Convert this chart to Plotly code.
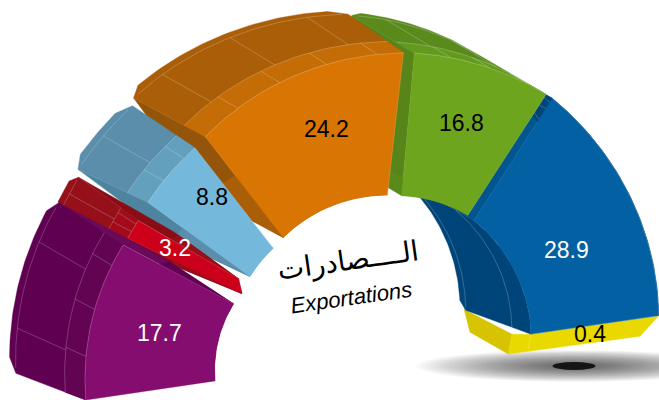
import math
import plotly.graph_objects as go

# ---- data ----
CATEGORIES = ["a", "b", "c", "d", "e", "f", "g"]
VALUES = [17.7, 3.2, 8.8, 24.2, 16.8, 28.9, 0.4]
VALUE_LABELS = ["17.7", "3.2", "8.8", "24.2", "16.8", "28.9", "0.4"]
TITLE_AR = "الــــصادرات"
TITLE_FR = "Exportations"

# ---- projection / style (per slice, not data) ----
START = -8.4
SWEEP = 190.0
NUDGE = [(0, 2.8), (0.6, -1.2), (4.7, 4.0), (4.3, 2.4), (1.1, -3.0), (-3.2, -9.1), (-9.1, -9.1)]
CENTER = [(343, 362), (377, 359), (355, 353), (370, 350), (389, 337), (387.5, 355), (387.5, 355)]
R_OUT = [(260, 249), (277, 276), (256, 260), (269.5, 299), (285, 289), (305, 274), (274, 274)]
R_IN = [(129.5, 124), (150, 160), (130, 133), (142, 156), (142, 145), (160, 145), (145, 145)]
BACK = [((-76, -29), (-70, -46)), ((-73, -30), (-65, -47)), ((-76, -36), (-68, -46)),
        ((-78, -42), (-60, -42)), ((-68, -41), (-68, -40)), ((-68, -38), (-71, -26)),
        ((-67, -25), (-67, -25))]
FRONT_COL = ["#850D70", "#CC001A", "#74B9DC", "#D87503", "#6EA51E", "#0260A3", "#EAD900"]
WALL_COL = ["#5F0050", "#96101A", "#5A8EAA", "#AB5E08", "#5A8A1C", "#00457A", "#D6C400"]
BEVEL_COL = ["#620452", "#A20C1A", "#62A0BE", "#C46C06", "#639A1E", "#00457A", "#EAD900"]
SIDE_COL = ["#6B0A5A", "#8A0C14", "#4F84A0", "#94550A", "#578519", "#02558F", "#D6C400"]
LABEL_COL = ["white", "white", "black", "black", "black", "white", "black"]
LABEL_FRAC = [0.46, 0.62, 0.63, 0.545, 0.575, 0.41, 0.0]
LABEL_DA = [-0.8, 0.85, 3.5, 4.5, -0.3, 2.3, 0.0]
LINE = "rgba(255,255,255,0.35)"
T_BEVEL, T_LIP, CHAMFER = 0.27, 0.92, 2.8

deg = SWEEP / sum(VALUES)
fig = go.Figure()


def poly(pts, color):
    xs, ys = zip(*pts)
    fig.add_trace(go.Scatter(x=list(xs) + [xs[0]], y=list(ys) + [ys[0]], mode="lines", fill="toself",
                             fillcolor=color, line=dict(color=color, width=0.4), hoverinfo="skip",
                             showlegend=False))


def line(pts, color=LINE, width=0.6):
    xs, ys = zip(*pts)
    fig.add_trace(go.Scatter(x=list(xs), y=list(ys), mode="lines", line=dict(color=color, width=width),
                             hoverinfo="skip", showlegend=False))


cum = 0.0
angles = []
for v, n in zip(VALUES, NUDGE):
    angles.append((START + cum * deg + n[0], START + (cum + v) * deg + n[1]))
    cum += v


def maker(i):
    a0, a1 = angles[i]
    cx, cy = CENTER[i]
    (s0, s1) = BACK[i]

    def P(th, kind, t=0.0):
        f = (th - a0) / (a1 - a0) if a1 != a0 else 0
        rr = R_OUT[i] if kind == "out" else R_IN[i]
        r = rr[0] + (rr[1] - rr[0]) * f
        sx = s0[0] + (s1[0] - s0[0]) * f
        sy = s0[1] + (s1[1] - s0[1]) * f
        rad = math.radians(th)
        return (cx - r * math.cos(rad) + t * sx, cy - r * math.sin(rad) + t * sy)

    return P


def arc(i, P, kind, t=0.0, inset=0.0):
    a0, a1 = angles[i]
    a0 += inset
    a1 -= inset
    return [P(a0 + (a1 - a0) * k / 40, kind, t) for k in range(41)]


def side_visible(P, th, kind_sign, shift):
    a = P(th, "out")
    b = P(th, "in")
    ex, ey = a[0] - b[0], a[1] - b[1]
    nx, ny = -ey * kind_sign, ex * kind_sign
    return nx * shift[0] + ny * shift[1] > 0


# ---- yellow sliver first (it sits beneath the blue slice) ----
Y = 6
P = maker(Y)
a0y, a1y = angles[Y]
A, B = P(a0y, "out"), P(a0y, "in")
A2, B2 = P(a1y, "out"), P(a1y, "in")
LOW = (B2[0] - 23, B2[1] + 18)
MID = (B[0] - 19, B[1])
poly([MID, (B[0] - 67, B[1] - 25), (B[0] - 61, B[1] - 2), LOW], WALL_COL[Y])
poly([A, B, MID, LOW, (A2[0] - 19, A2[1] + 17)], FRONT_COL[Y])
line([B, (B2[0] - 3, B2[1] + 13)], "rgba(255,255,255,0.35)", 0.6)

# ---- slices, back to front ----
for i in [5, 4, 3, 2, 1, 0]:
    P = maker(i)
    a0, a1 = angles[i]
    s0, s1 = BACK[i]
    ch = min(CHAMFER, (a1 - a0) * 0.2)
    if side_visible(P, a0, -1, s0):
        poly([P(a0, "out"), P(a0, "in"), P(a0, "in", 1), P(a0, "out", T_LIP)], SIDE_COL[i])
    if side_visible(P, a1, 1, s1):
        poly([P(a1, "out"), P(a1, "in"), P(a1, "in", 1), P(a1, "out", T_LIP)], SIDE_COL[i])
    # outer wall with a chamfered back rim
    poly(arc(i, P, "out") + [P(a1, "out", T_LIP)] + arc(i, P, "out", 1, ch)[::-1] + [P(a0, "out", T_LIP)],
         WALL_COL[i])
    poly(arc(i, P, "out") + arc(i, P, "out", T_BEVEL)[::-1], BEVEL_COL[i])
    line(arc(i, P, "out", T_BEVEL))
    line(arc(i, P, "out", T_LIP, ch * 0.4))
    n = max(1, round((a1 - a0) / 15))
    for k in range(n):
        f = (k + 0.5) / n
        line([P(a0 + (a1 - a0) * f, "out", T_BEVEL), P(a0 + (a1 - a0) * f, "out", T_LIP)])
    for k in range(n + 1):
        f = (k + 0.9) / (n + 1.4)
        line([P(a0 + (a1 - a0) * f, "out", 0), P(a0 + (a1 - a0) * f, "out", T_BEVEL)])
    # inner wall
    poly(arc(i, P, "in") + [P(a1, "in", T_LIP)] + arc(i, P, "in", 1, ch)[::-1] + [P(a0, "in", T_LIP)],
         WALL_COL[i])
    if i == 5:
        line(arc(i, P, "in", T_BEVEL))
        line(arc(i, P, "in", T_LIP, ch * 0.4))
    poly(arc(i, P, "out") + arc(i, P, "in")[::-1], FRONT_COL[i])
    line(arc(i, P, "out"), "rgba(255,255,255,0.35)", 0.6)
    line([P(a1, "out"), P(a1, "in")], "rgba(255,255,255,0.25)", 0.6)

# ---- value labels ----
for i, (txt, col) in enumerate(zip(VALUE_LABELS, LABEL_COL)):
    P = maker(i)
    a0, a1 = angles[i]
    th = (a0 + a1) / 2 + LABEL_DA[i]
    o, n = P(th, "out"), P(th, "in")
    if i == Y:
        x, y = (A[0] + B[0]) / 2 - 5, (A[1] + B[1]) / 2 + 9
    else:
        x = n[0] + (o[0] - n[0]) * LABEL_FRAC[i]
        y = n[1] + (o[1] - n[1]) * LABEL_FRAC[i]
    fig.add_annotation(x=x, y=y, text=txt, showarrow=False, xanchor="center", yanchor="middle",
                       font=dict(family="Liberation Sans", size=23, color=col))

fig.add_annotation(x=348, y=260, text=TITLE_AR, showarrow=False, textangle=-8,
                   font=dict(family="DejaVu Sans", size=28, color="black"))
fig.add_annotation(x=351, y=297, text="<i>" + TITLE_FR + "</i>", showarrow=False, textangle=-8,
                   font=dict(family="Liberation Sans", size=22, color="black"))

# ---- floor shadow ----
shapes = []
SX, SY, SRX, SRY = 574, 366, 158, 16
LEVELS = 34
for k in range(LEVELS):
    f = 1 - k / LEVELS
    shapes.append(dict(type="circle", xref="x", yref="y", x0=SX - SRX * f, x1=SX + SRX * f,
                       y0=SY - SRY * f, y1=SY + SRY * f, line_width=0,
                       fillcolor="rgba(0,0,0,0.022)", layer="below"))
shapes.append(dict(type="circle", xref="x", yref="y", x0=SX - 21.5, x1=SX + 21.5, y0=SY - 4, y1=SY + 4,
                   line_width=0, fillcolor="#151515", layer="below"))

fig.update_layout(width=659, height=400, autosize=False, margin=dict(l=0, r=0, t=0, b=0),
                  paper_bgcolor="white", plot_bgcolor="white", shapes=shapes, showlegend=False,
                  xaxis=dict(range=[0, 659], visible=False, fixedrange=True),
                  yaxis=dict(range=[400, 0], visible=False, fixedrange=True))
fig.write_html("out.html", config=dict(displayModeBar=False),
               post_script="document.body.style.margin='0';")
